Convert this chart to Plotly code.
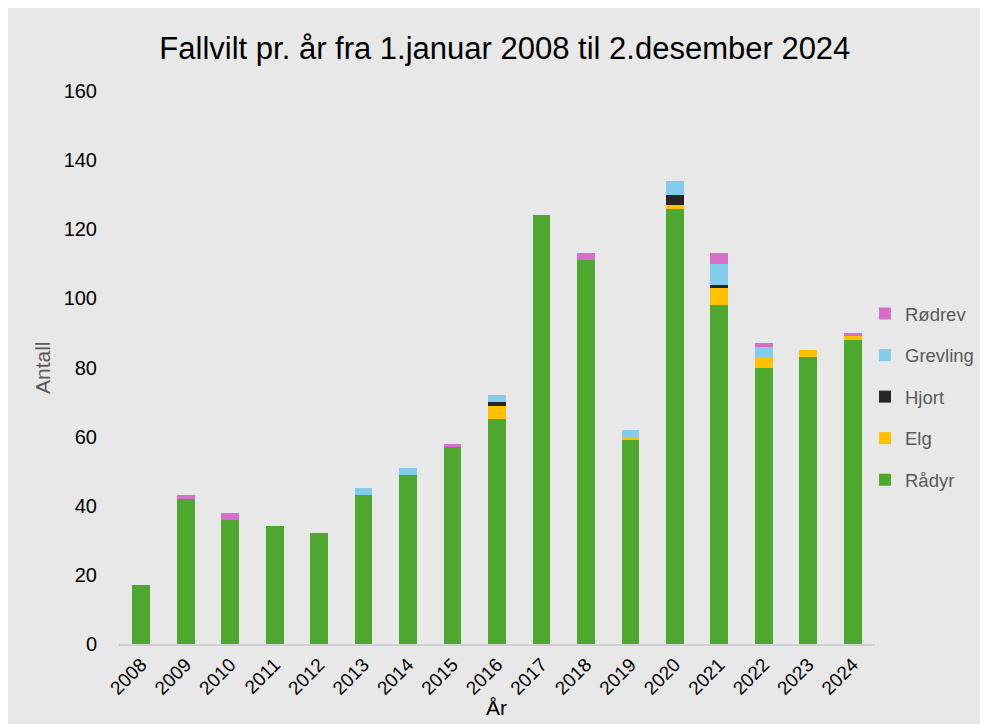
import plotly.graph_objects as go

years = [str(y) for y in range(2008, 2025)]
radyr =    [17, 42, 36, 34, 32, 43, 49, 57, 65, 124, 111, 59, 126, 98, 80, 83, 88]
elg =      [0, 0, 0, 0, 0, 0, 0, 0, 4, 0, 0, 1, 1, 5, 3, 2, 1]
hjort =    [0, 0, 0, 0, 0, 0, 0, 0, 1, 0, 0, 0, 3, 1, 0, 0, 0]
grevling = [0, 0, 0, 0, 0, 2, 2, 0, 2, 0, 0, 2, 4, 6, 3, 0, 0]
rodrev =   [0, 1, 2, 0, 0, 0, 0, 1, 0, 0, 2, 0, 0, 3, 1, 0, 1]

series = [
    ("Rådyr", radyr, "#4ea72e"),
    ("Elg", elg, "#ffc000"),
    ("Hjort", hjort, "#262626"),
    ("Grevling", grevling, "#83cceb"),
    ("Rødrev", rodrev, "#d86ecc"),
]

FONT = "Liberation Sans, Arial, sans-serif"

# page body has an 8px margin; plot area sits at screen x 119..875, y 91..644
L, T = 111, 83
W, H = 980, 716
PW, PH = 756, 553

fig = go.Figure()
for i, (name, vals, col) in enumerate(series):
    fig.add_trace(go.Bar(
        x=years, y=vals, name=name, legendgroup=name,
        legendrank=len(series) - i,
        marker=dict(color=col, line=dict(width=0)),
    ))

fig.update_layout(
    width=W, height=H,
    barmode="stack", bargap=0.6,
    paper_bgcolor="#e8e8e8", plot_bgcolor="#e8e8e8",
    margin=dict(l=L, r=W - L - PW, t=T, b=H - T - PH, autoexpand=False),
    font=dict(family=FONT, color="#404040"),
    title=dict(text="Fallvilt pr. år fra 1.januar 2008 til 2.desember 2024",
               x=0.507, xanchor="center", xref="container",
               y=0.944, yanchor="middle",
               font=dict(family=FONT, size=31, color="#000000")),
    showlegend=True,
    legend=dict(x=(865 - 8) / W, y=1 - (295 - 8) / H, xref="container", yref="container",
                xanchor="left", yanchor="top",
                traceorder="grouped", tracegroupgap=14.5,
                bgcolor="rgba(0,0,0,0)",
                font=dict(family=FONT, size=18.5, color="#595959")),
    xaxis=dict(type="category", showgrid=False, showline=True, linecolor="#d0d0d0",
               linewidth=2, ticks="", tickangle=-45, automargin=False,
               tickfont=dict(family=FONT, size=19, color="#000000")),
    yaxis=dict(range=[0, 160], dtick=20, showgrid=False, zeroline=False,
               ticks="", ticklabelstandoff=21, automargin=False,
               tickfont=dict(family=FONT, size=20, color="#000000")),
    annotations=[
        dict(text="Antall", xref="paper", yref="paper",
             x=(42 - 119) / PW, y=(644 - 368) / PH, textangle=-90,
             showarrow=False, xanchor="center", yanchor="middle",
             font=dict(family=FONT, size=21, color="#595959")),
        dict(text="År", xref="paper", yref="paper",
             x=(496 - 119) / PW, y=(644 - 707) / PH,
             showarrow=False, xanchor="center", yanchor="middle",
             font=dict(family=FONT, size=21, color="#000000")),
    ],
)

fig.write_html("out.html")
